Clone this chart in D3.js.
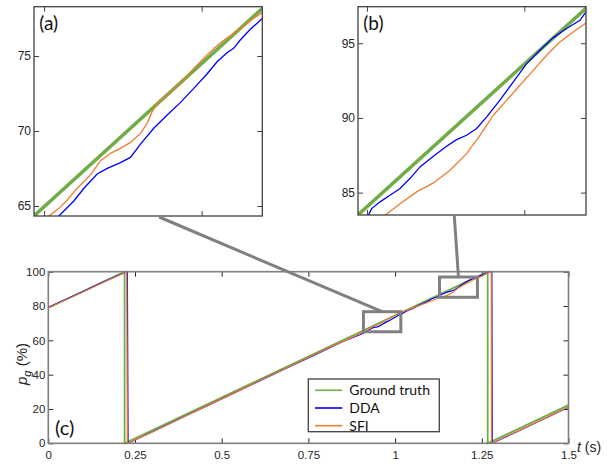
<!DOCTYPE html>
<html><head><meta charset="utf-8">
<script src="https://cdn.jsdelivr.net/npm/d3@7"></script>
<style>html,body{margin:0;padding:0;background:#fff;} svg{display:block;}</style>
</head><body>
<svg id="c" width="608" height="468"></svg>
<script>
// ---------------- data ----------------
const seriesNames = ["Ground truth", "DDA", "SFI"];

const gtT = [0, 0.22, 0.22, 1.267, 1.267, 1.5];
const gtP = [79.0, 100, 0, 100, 0, 22.25];

const ddaT = [0, 0.05, 0.1, 0.15, 0.2, 0.228, 0.230, 0.25, 0.3, 0.35, 0.4, 0.45, 0.5, 0.55, 0.6, 0.65, 0.7, 0.75, 0.8, 0.85, 0.9,
  0.9094, 0.9189, 0.9253, 0.9337, 0.9401, 0.9485, 0.9548, 0.9612, 0.9696, 0.9781, 0.9865, 0.9950, 1.0034, 1.0098, 1.0161, 1.0203, 1.0245, 1.0309, 1.0385,
  1.05, 1.07, 1.09,
  1.1008, 1.1030, 1.1083, 1.1146, 1.1210, 1.1273, 1.1337, 1.1422, 1.1506, 1.1570, 1.1633, 1.1697, 1.1761, 1.1845, 1.1930, 1.2015, 1.2099, 1.2184, 1.2269, 1.2353, 1.2392,
  1.25, 1.265, 1.279, 1.280, 1.3, 1.35, 1.4, 1.45, 1.5];
const ddaP = [79.2, 83.8, 88.5, 93.2, 97.7, 100, 0, 1.9, 6.7, 11.5, 16.3, 21.1, 25.9, 30.7, 35.5, 40.3, 45.0, 49.8, 54.6, 59.3, 63.4,
  64.33, 65.33, 66.18, 67.13, 67.51, 67.89, 68.24, 69.13, 70.18, 71.07, 71.89, 72.84, 73.8, 74.62, 75.22, 75.51, 76.07, 76.78, 77.5,
  78.5, 80.5, 82.5,
  83.48, 83.93, 84.38, 84.82, 85.27, 85.94, 86.72, 87.43, 88.1, 88.55, 88.84, 89.29, 90.07, 91.19, 92.41, 93.64, 94.53, 95.38, 95.99, 96.54, 97.1,
  98.1, 99.5, 100, 0, 1.9, 6.6, 11.4, 16.2, 21.0];

const sfiT = [0, 0.05, 0.1, 0.15, 0.2, 0.226, 0.228, 0.25, 0.3, 0.35, 0.4, 0.45, 0.5, 0.55, 0.6, 0.65, 0.7, 0.75, 0.8, 0.85, 0.895,
  0.9031, 0.9094, 0.9147, 0.9210, 0.9295, 0.9358, 0.9422, 0.9485, 0.9548, 0.9612, 0.9654, 0.9686, 0.9717, 0.9781, 0.9865, 0.9950, 1.0034, 1.0119, 1.0203, 1.0309, 1.0385,
  1.05, 1.07, 1.09, 1.104,
  1.1115, 1.1210, 1.1316, 1.1422, 1.1528, 1.1633, 1.1718, 1.1803, 1.1888, 1.1972, 1.2057, 1.2142, 1.2226, 1.2311, 1.2392,
  1.25, 1.265, 1.277, 1.278, 1.3, 1.35, 1.4, 1.45, 1.5];
const sfiP = [78.9, 83.5, 88.2, 93.0, 97.6, 100, 0, 2.0, 6.6, 11.4, 16.3, 21.1, 25.9, 30.7, 35.6, 40.4, 45.2, 50.0, 54.8, 59.4, 63.6,
  64.33, 64.84, 65.4, 66.18, 67.07, 68.02, 68.51, 68.84, 69.24, 69.84, 70.51, 71.29, 71.8, 72.4, 73.18, 74.18, 75.07, 75.89, 76.51, 77.36, 77.9,
  78.8, 80.3, 81.8, 82.9,
  83.48, 84.26, 85.05, 85.65, 86.5, 87.61, 88.84, 90.18, 91.19, 92.19, 93.19, 94.2, 95.09, 95.76, 96.36,
  97.5, 99.0, 100, 0, 2.1, 6.8, 11.6, 16.4, 21.2];

const xTicks = [0, 0.25, 0.5, 0.75, 1, 1.25, 1.5];
const xTickLabels = ["0", "0.25", "0.5", "0.75", "1", "1.25", "1.5"];
const yTicks = [0, 20, 40, 60, 80, 100];
const yTickLabels = ["0", "20", "40", "60", "80", "100"];

const insetADomainT = [0.8936, 1.0385];
const insetADomainP = [64.33, 78.29];
const insetATicksT = [0.9, 1.0];
const insetATicksP = [65, 70, 75];
const insetBDomainT = [1.0943, 1.2392];
const insetBDomainP = [83.5, 97.45];
const insetBTicksT = [1.1, 1.2];
const insetBTicksP = [85, 90, 95];

const boxAT = [0.9087, 1.0165], boxAP = [65.0, 76.7];
const boxBT = [1.128, 1.2374], boxBP = [85.1, 96.9];
const connectAT = 0.973, connectBT = 1.1555;

// ---------------- helpers ----------------
const toPts = (T, P) => T.map((t, i) => ({t, p: P[i]}));
const gt = toPts(gtT, gtP), dda = toPts(ddaT, ddaP), sfi = toPts(sfiT, sfiP);
const colors = {gt: "#70AD47", dda: "#0000FF", sfi: "#ED7D31"};
const tickFont = "'Liberation Sans', Arial, sans-serif";
const labFont = "Lato, 'Open Sans', sans-serif";

const svg = d3.select("#c");

// ---------------- main chart ----------------
const M = {l: 48.3, r: 568.5, t: 271.7, b: 443.3};
const x = d3.scaleLinear().domain([0, 1.5]).range([M.l, M.r]);
const y = d3.scaleLinear().domain([0, 100]).range([M.b, M.t]);

const main = svg.append("g");
function styleAxis(g, labels) {
  g.select(".domain").remove();
  g.selectAll(".tick line").attr("stroke", "#262626").attr("stroke-width", 1);
  g.selectAll("text").attr("fill", "#262626").style("font-family", tickFont).style("font-size", "11.5px");
  if (!labels) g.selectAll("text").remove();
}
main.append("g").attr("transform", `translate(0,${M.b})`)
  .call(d3.axisBottom(x).tickValues(xTicks).tickFormat((d, i) => xTickLabels[i]).tickSize(-5).tickPadding(8))
  .call(g => styleAxis(g, true));
main.append("g").attr("transform", `translate(0,${M.t})`)
  .call(d3.axisTop(x).tickValues(xTicks).tickSize(-5)).call(g => styleAxis(g, false));
main.append("g").attr("transform", `translate(${M.l},0)`)
  .call(d3.axisLeft(y).tickValues(yTicks).tickFormat((d, i) => yTickLabels[i]).tickSize(-5).tickPadding(3))
  .call(g => styleAxis(g, true));
main.append("g").attr("transform", `translate(${M.r},0)`)
  .call(d3.axisRight(y).tickValues(yTicks).tickSize(-5)).call(g => styleAxis(g, false));

const lineMain = d3.line().x(d => x(d.t)).y(d => y(d.p));
main.append("path").datum(gt).attr("d", lineMain).attr("fill", "none").attr("stroke", colors.gt).attr("stroke-width", 1.8);
main.append("path").datum(dda).attr("d", lineMain).attr("fill", "none").attr("stroke", colors.dda).attr("stroke-width", 1.2);
main.append("path").datum(sfi).attr("d", lineMain).attr("fill", "none").attr("stroke", colors.sfi).attr("stroke-width", 1.2);

main.append("rect").attr("x", M.l).attr("y", M.t).attr("width", M.r - M.l).attr("height", M.b - M.t)
  .attr("fill", "none").attr("stroke", "#7f7f7f").attr("stroke-width", 1.6);

// zoom boxes
[[boxAT, boxAP], [boxBT, boxBP]].forEach(([bt, bp]) => {
  main.append("rect").attr("x", x(bt[0])).attr("y", y(bp[1]))
    .attr("width", x(bt[1]) - x(bt[0])).attr("height", y(bp[0]) - y(bp[1]))
    .attr("fill", "none").attr("stroke", "#808080").attr("stroke-width", 3);
});

// axis labels
const yl = main.append("text").attr("transform", `translate(26.5,364) rotate(-90)`)
  .attr("text-anchor", "middle").style("font-family", tickFont).style("font-size", "15px").attr("fill", "#262626");
yl.append("tspan").text("p").style("font-style", "italic");
yl.append("tspan").text("g").style("font-style", "italic").style("font-size", "11px").attr("dy", 4);
yl.append("tspan").text(" (%)").attr("dy", -4);
const xl = main.append("text").attr("x", 577).attr("y", 451.5).style("font-family", tickFont).style("font-size", "14px").attr("fill", "#262626");
xl.append("tspan").text("t").style("font-style", "italic");
xl.append("tspan").text(" (s)");

main.append("text").attr("x", 55).attr("y", 434.5).text("(c)").style("font-family", labFont).style("font-size", "20px").attr("fill", "#111");

// legend
const lg = main.append("g");
lg.append("rect").attr("x", 308.3).attr("y", 379).attr("width", 131).attr("height", 52.7)
  .attr("fill", "#fff").attr("stroke", "#404040").attr("stroke-width", 1.3);
[colors.gt, colors.dda, colors.sfi].forEach((c, i) => {
  const yy = 390.3 + i * 17.7;
  lg.append("line").attr("x1", 315).attr("x2", 342.3).attr("y1", yy).attr("y2", yy).attr("stroke", c).attr("stroke-width", 1.6);
  lg.append("text").attr("x", 349.3).attr("y", yy + 4.8).text(seriesNames[i])
    .style("font-family", labFont).style("font-size", "14px").attr("fill", "#111");
});

// ---------------- insets ----------------
function inset(id, L, R, T, B, domT, domP, ticksT, ticksP, label) {
  const xs = d3.scaleLinear().domain(domT).range([L, R]);
  const ys = d3.scaleLinear().domain(domP).range([B, T]);
  const g = svg.append("g");
  g.append("clipPath").attr("id", id).append("rect").attr("x", L).attr("y", T).attr("width", R - L).attr("height", B - T);
  const ln = d3.line().x(d => xs(d.t)).y(d => ys(d.p));
  const cg = g.append("g").attr("clip-path", `url(#${id})`);
  cg.append("path").datum(gt).attr("d", ln).attr("fill", "none").attr("stroke", colors.gt).attr("stroke-width", 3.5);
  cg.append("path").datum(dda).attr("d", ln).attr("fill", "none").attr("stroke", colors.dda).attr("stroke-width", 1.3);
  cg.append("path").datum(sfi).attr("d", ln).attr("fill", "none").attr("stroke", colors.sfi).attr("stroke-width", 1.3);
  function st(a, labels) {
    a.select(".domain").remove();
    a.selectAll(".tick line").attr("stroke", "#404040");
    a.selectAll("text").attr("fill", "#262626").style("font-family", tickFont).style("font-size", "12px");
    if (!labels) a.selectAll("text").remove();
  }
  g.append("g").attr("transform", `translate(0,${B})`).call(d3.axisBottom(xs).tickValues(ticksT).tickSize(-5)).call(a => st(a, false));
  g.append("g").attr("transform", `translate(0,${T})`).call(d3.axisTop(xs).tickValues(ticksT).tickSize(-5)).call(a => st(a, false));
  g.append("g").attr("transform", `translate(${L},0)`).call(d3.axisLeft(ys).tickValues(ticksP).tickSize(-5).tickPadding(3)).call(a => st(a, true));
  g.append("g").attr("transform", `translate(${R},0)`).call(d3.axisRight(ys).tickValues(ticksP).tickSize(-5)).call(a => st(a, false));
  g.append("rect").attr("x", L).attr("y", T).attr("width", R - L).attr("height", B - T)
    .attr("fill", "none").attr("stroke", "#404040").attr("stroke-width", 1.3);
  g.append("text").attr("x", L + 5.3).attr("y", T + 23).text(label).style("font-family", labFont).style("font-size", "19px").attr("fill", "#111");
  return {xs, ys, B};
}
const A = inset("clipA", 34, 262.3, 6.7, 216, insetADomainT, insetADomainP, insetATicksT, insetATicksP, "(a)");
const Bi = inset("clipB", 358, 586, 6.7, 215, insetBDomainT, insetBDomainP, insetBTicksT, insetBTicksP, "(b)");

// connectors
const conn = svg.append("g");
conn.append("line").attr("x1", A.xs(connectAT)).attr("y1", A.B + 1).attr("x2", x((boxAT[0] + boxAT[1]) / 2)).attr("y2", y(boxAP[1]))
  .attr("stroke", "#808080").attr("stroke-width", 3);
conn.append("line").attr("x1", Bi.xs(connectBT)).attr("y1", Bi.B + 1).attr("x2", x((boxBT[0] + boxBT[1]) / 2)).attr("y2", y(boxBP[1]))
  .attr("stroke", "#808080").attr("stroke-width", 3);
</script>
</body></html>
